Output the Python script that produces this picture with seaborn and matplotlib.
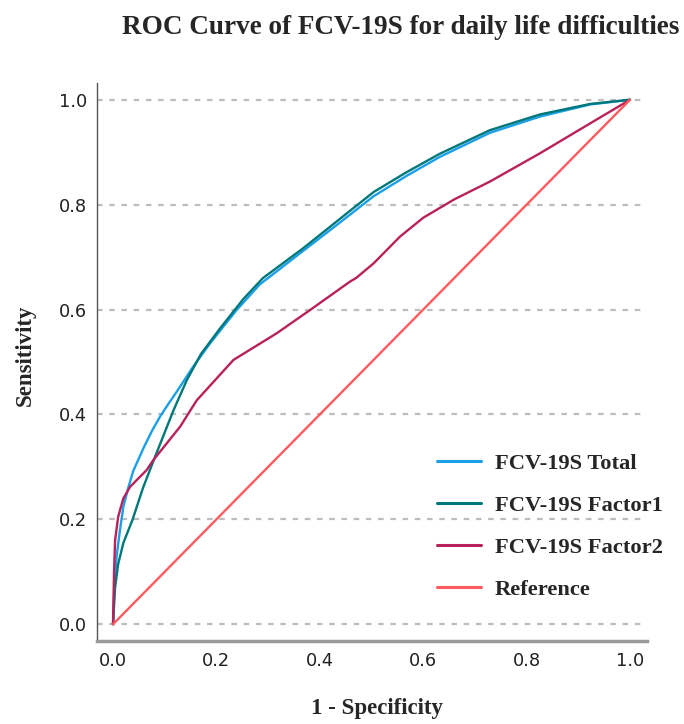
import pandas as pd
import seaborn as sns
import matplotlib.pyplot as plt

# ROC points (1 - specificity, sensitivity)
total_x = [0, 0.003, 0.007, 0.0135, 0.020, 0.030, 0.039, 0.059, 0.075, 0.091,
           0.107, 0.123, 0.155, 0.188, 0.239, 0.284, 0.368, 0.439, 0.504,
           0.568, 0.632, 0.729, 0.826, 0.923, 1.0]
total_y = [0, 0.08, 0.13, 0.18, 0.224, 0.262, 0.292, 0.336, 0.368, 0.396,
           0.420, 0.443, 0.491, 0.536, 0.599, 0.648, 0.712, 0.766, 0.816,
           0.855, 0.891, 0.937, 0.968, 0.991, 1.0]

factor1_x = [0, 0.004, 0.010, 0.020, 0.038, 0.058, 0.080, 0.117, 0.143, 0.170,
             0.207, 0.252, 0.290, 0.368, 0.439, 0.504, 0.568, 0.632, 0.729,
             0.826, 0.923, 1.0]
factor1_y = [0, 0.07, 0.115, 0.155, 0.200, 0.260, 0.316, 0.408, 0.466, 0.515,
             0.564, 0.620, 0.660, 0.717, 0.773, 0.824, 0.862, 0.897, 0.942,
             0.972, 0.992, 1.0]

factor2_x = [0, 0.002, 0.004, 0.010, 0.020, 0.033, 0.065, 0.078, 0.130, 0.162,
             0.233, 0.317, 0.381, 0.458, 0.470, 0.504, 0.555, 0.600, 0.660,
             0.729, 0.826, 0.923, 1.0]
factor2_y = [0, 0.10, 0.160, 0.205, 0.240, 0.262, 0.294, 0.313, 0.377, 0.427,
             0.504, 0.555, 0.599, 0.653, 0.660, 0.688, 0.739, 0.775, 0.810,
             0.844, 0.898, 0.955, 1.0]

reference_x = [0, 1.0]
reference_y = [0, 1.0]

labels = ["FCV-19S Total", "FCV-19S Factor1", "FCV-19S Factor2", "Reference"]
colors = ["#1a9fe8", "#00787a", "#b8215a", "#ff5a5f"]
ticks = [0.0, 0.2, 0.4, 0.6, 0.8, 1.0]


def build_frame():
    parts = []
    for name, xs, ys in zip(labels,
                            [total_x, factor1_x, factor2_x, reference_x],
                            [total_y, factor1_y, factor2_y, reference_y]):
        parts.append(pd.DataFrame({"fpr": xs, "tpr": ys, "curve": name}))
    return pd.concat(parts, ignore_index=True)


def main():
    sns.set_theme(style="white")
    plt.rcParams["font.family"] = ["DejaVu Sans"]
    serif = "Liberation Serif"

    data = build_frame()
    fig = plt.figure(figsize=(6.84, 7.24), dpi=100)
    ax = fig.add_axes([0.1418, 0.1146, 0.8042, 0.7708])

    sns.lineplot(data=data, x="fpr", y="tpr", hue="curve", hue_order=labels,
                 palette=colors, sort=False, estimator=None, linewidth=1.7,
                 ax=ax)

    ax.set_xlim(-0.031, 1.033)
    ax.set_ylim(-0.032, 1.032)
    ax.set_xticks(ticks)
    ax.set_yticks(ticks)
    ax.set_xticklabels([f"{t:.1f}" for t in ticks])
    ax.set_yticklabels([f"{t:.1f}" for t in ticks])
    ax.tick_params(axis="both", length=0, labelsize=12.8, colors="#222222")
    ax.tick_params(axis="y", pad=7)
    ax.tick_params(axis="x", pad=8)
    ax.yaxis.grid(True, color="#bdbdbd", linestyle=(0, (2.5, 3)), linewidth=1.6)
    ax.set_axisbelow(True)

    for side in ["top", "right"]:
        ax.spines[side].set_visible(False)
    ax.spines["left"].set_color("#555555")
    ax.spines["left"].set_linewidth(1.0)
    ax.spines["bottom"].set_color("#9a9a9a")
    ax.spines["bottom"].set_linewidth(2.5)

    ax.set_xlabel("")
    ax.set_ylabel("")
    fig.text(0.586, 0.962, "ROC Curve of FCV-19S for daily life difficulties",
             ha="center", va="center", family=serif, weight="bold",
             fontsize=19.5)
    fig.text(0.551, 0.022, "1 - Specificity", ha="center", va="center",
             family=serif, weight="bold", fontsize=16.5)
    fig.text(0.0365, 0.5097, "Sensitivity", ha="center", va="center",
             rotation=90, family=serif, weight="bold", fontsize=16.5)

    leg = ax.legend(loc="upper left", bbox_to_anchor=(0.622, 0.390),
                    bbox_transform=fig.transFigure, frameon=False,
                    handlelength=1.95, handletextpad=0.62, labelspacing=0.95,
                    borderpad=0, prop={"family": serif, "weight": "bold",
                                       "size": 16.2})
    for line in leg.get_lines():
        line.set_linewidth(2.2)

    fig.savefig("out.png", dpi=100)


if __name__ == "__main__":
    main()
